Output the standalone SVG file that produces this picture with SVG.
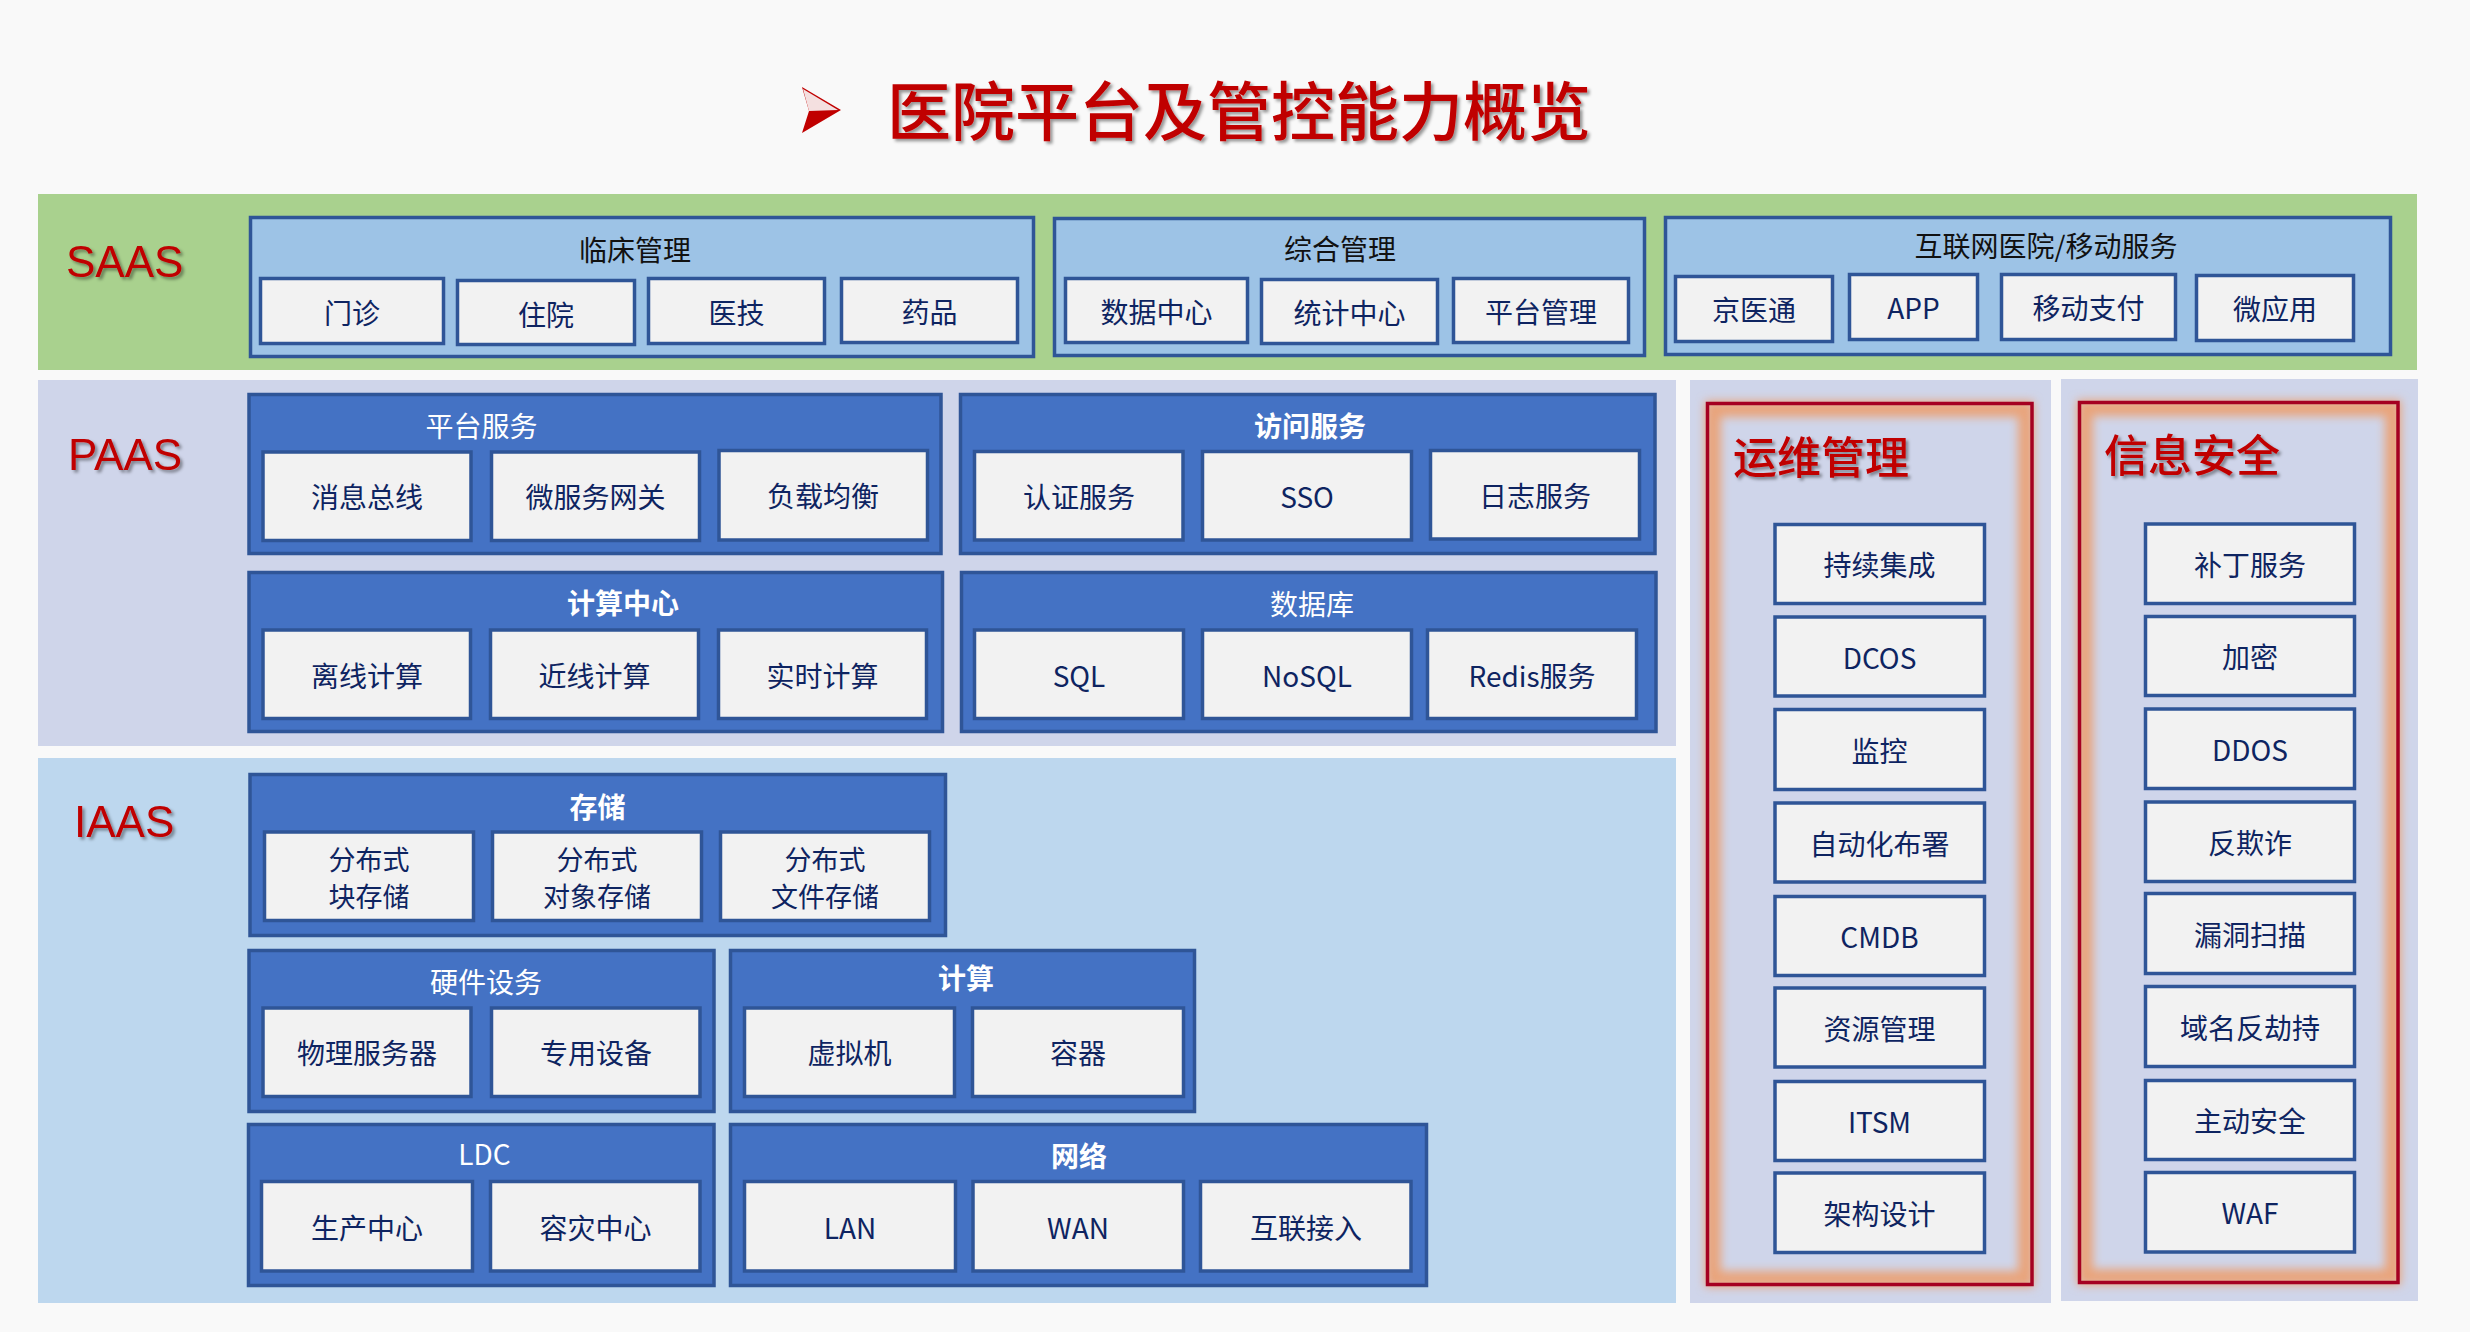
<svg xmlns="http://www.w3.org/2000/svg" width="2470" height="1332" viewBox="0 0 2470 1332">
<defs>
<style>
.bg{fill:#F9F9F9}
.saas{fill:#A9D18E}
.paas{fill:#CFD5EA}
.iaas{fill:#BDD7EE}
.gl{fill:#9DC3E6;stroke:#2F5597;stroke-width:3.5}
.gd{fill:#4472C4;stroke:#2F5597;stroke-width:3.5}
.it{fill:#F2F2F2;stroke:#2F5597;stroke-width:3.5}
text{font-family:"Noto Sans CJK SC","Noto Sans",sans-serif}
.ti{font-size:28px;fill:#0E2461;text-anchor:middle;dominant-baseline:central}
.t2{font-size:27px}
.tw{font-size:28px;fill:#FFFFFF;text-anchor:middle;dominant-baseline:central}
.tb{font-weight:bold}
.tk{font-size:28px;fill:#111111;text-anchor:middle;dominant-baseline:central}
.lay{font-family:"Liberation Sans",Arial,sans-serif;font-size:44px;fill:#C00000}
.rt{font-size:44px;fill:#C00000;font-weight:500;dominant-baseline:central}
.frame{fill:none;stroke:#A50021;stroke-width:3.5}
.glow{fill:none;stroke:#E9A47B;stroke-width:16}
</style>
<filter id="sh" x="-10%" y="-20%" width="130%" height="150%">
<feDropShadow dx="2.5" dy="2.5" stdDeviation="1.5" flood-color="#000" flood-opacity="0.4"/>
</filter>
<filter id="blur" x="-10%" y="-10%" width="120%" height="120%">
<feGaussianBlur stdDeviation="5"/>
</filter>
</defs>
<rect class="bg" x="0" y="0" width="2470" height="1332"/>

<g id="title">
<polygon points="802,87 841,110 802,133 809,111" fill="#C00000"/>
<polygon points="803,89 838,110 809,111" fill="#F4E0E0"/>
<text x="887" y="135" font-size="64" font-weight="500" fill="#C00000" filter="url(#sh)">医院平台及管控能力概览</text>
</g>

<!-- bands -->
<rect class="saas" x="38" y="194" width="2379" height="176"/>
<rect class="paas" x="38" y="380" width="1638" height="366"/>
<rect class="iaas" x="38" y="758" width="1638" height="545"/>
<rect class="paas" x="1690" y="380" width="361" height="923"/>
<rect class="paas" x="2061" y="379" width="357" height="922"/>

<g id="layer-labels">
<text class="lay" x="66" y="277" filter="url(#sh)">SAAS</text>
<text class="lay" x="68" y="470" filter="url(#sh)">PAAS</text>
<text class="lay" x="74" y="837" filter="url(#sh)">IAAS</text>
</g>

<!-- SAAS -->
<g id="saas-clinical">
<rect class="gl" x="250.5" y="217.5" width="783" height="139"/>
<text class="tk" x="635" y="249">临床管理</text>
<rect class="it" x="260.5" y="278.5" width="183" height="65"/><text class="ti" x="352" y="312">门诊</text>
<rect class="it" x="457.5" y="280.5" width="177" height="64"/><text class="ti" x="546" y="314">住院</text>
<rect class="it" x="648.5" y="278.5" width="176" height="65"/><text class="ti" x="736.5" y="312">医技</text>
<rect class="it" x="841.5" y="278.5" width="176" height="64"/><text class="ti" x="929.5" y="311">药品</text>
</g>
<g id="saas-general">
<rect class="gl" x="1054.5" y="218.5" width="590" height="137"/>
<text class="tk" x="1340" y="248">综合管理</text>
<rect class="it" x="1065.5" y="278.5" width="182" height="64"/><text class="ti" x="1156.5" y="311">数据中心</text>
<rect class="it" x="1261.5" y="279.5" width="176" height="64"/><text class="ti" x="1349.5" y="312">统计中心</text>
<rect class="it" x="1453.5" y="278.5" width="175" height="64"/><text class="ti" x="1541" y="311">平台管理</text>
</g>
<g id="saas-internet">
<rect class="gl" x="1665.5" y="217.5" width="725" height="137"/>
<text class="tk" x="2046" y="245">互联网医院/移动服务</text>
<rect class="it" x="1675.5" y="276.5" width="157" height="65"/><text class="ti" x="1754" y="309">京医通</text>
<rect class="it" x="1849.5" y="274.5" width="128" height="65"/><text class="ti" x="1913.5" y="307">APP</text>
<rect class="it" x="2001.5" y="274.5" width="174" height="65"/><text class="ti" x="2088.5" y="307">移动支付</text>
<rect class="it" x="2196.5" y="275.5" width="157" height="65"/><text class="ti" x="2275" y="308">微应用</text>
</g>

<!-- PAAS -->
<g id="paas-platform">
<rect class="gd" x="249" y="394.5" width="692" height="159"/>
<text class="tw" x="481.5" y="425">平台服务</text>
<rect class="it" x="263" y="452" width="208" height="88.5"/><text class="ti" x="367" y="496">消息总线</text>
<rect class="it" x="491.5" y="452" width="208" height="88.5"/><text class="ti" x="595.5" y="496">微服务网关</text>
<rect class="it" x="719" y="450.5" width="208.5" height="89.5"/><text class="ti" x="823" y="495">负载均衡</text>
</g>
<g id="paas-access">
<rect class="gd" x="960.5" y="394.5" width="694.5" height="159"/>
<text class="tw tb" x="1310" y="425">访问服务</text>
<rect class="it" x="974.5" y="451.5" width="208.5" height="88.5"/><text class="ti" x="1079" y="496">认证服务</text>
<rect class="it" x="1202.5" y="451.5" width="209" height="88.5"/><text class="ti" x="1307" y="496">SSO</text>
<rect class="it" x="1430.5" y="450.5" width="209" height="88.5"/><text class="ti" x="1535" y="495">日志服务</text>
</g>
<g id="paas-compute">
<rect class="gd" x="249" y="572.5" width="693.5" height="159"/>
<text class="tw tb" x="623" y="601.5">计算中心</text>
<rect class="it" x="263" y="630" width="207.5" height="88.5"/><text class="ti" x="367" y="675">离线计算</text>
<rect class="it" x="490.5" y="630" width="208" height="88.5"/><text class="ti" x="594.5" y="675">近线计算</text>
<rect class="it" x="718.5" y="630" width="208" height="88.5"/><text class="ti" x="822.5" y="675">实时计算</text>
</g>
<g id="paas-db">
<rect class="gd" x="961.5" y="572.5" width="694.5" height="159"/>
<text class="tw" x="1312" y="602.5">数据库</text>
<rect class="it" x="974.5" y="630" width="209" height="88.5"/><text class="ti" x="1079" y="675">SQL</text>
<rect class="it" x="1202.5" y="630" width="209" height="88.5"/><text class="ti" x="1307" y="675">NoSQL</text>
<rect class="it" x="1427.5" y="630" width="209" height="88.5"/><text class="ti" x="1532" y="675">Redis服务</text>
</g>

<!-- IAAS -->
<g id="iaas-storage">
<rect class="gd" x="250" y="774.5" width="695.5" height="161"/>
<text class="tw tb" x="597.5" y="805.5">存储</text>
<rect class="it" x="264.5" y="832" width="209" height="88.5"/><text class="ti t2" x="369" y="858">分布式</text><text class="ti t2" x="369" y="895">块存储</text>
<rect class="it" x="492.5" y="832" width="209" height="88.5"/><text class="ti t2" x="597" y="858">分布式</text><text class="ti t2" x="597" y="895">对象存储</text>
<rect class="it" x="720.5" y="832" width="209" height="88.5"/><text class="ti t2" x="825" y="858">分布式</text><text class="ti t2" x="825" y="895">文件存储</text>
</g>
<g id="iaas-hardware">
<rect class="gd" x="249" y="950.5" width="465" height="161"/>
<text class="tw" x="486" y="980.5">硬件设务</text>
<rect class="it" x="263" y="1008" width="208" height="88.5"/><text class="ti" x="367" y="1052">物理服务器</text>
<rect class="it" x="491.5" y="1008" width="208.5" height="88.5"/><text class="ti" x="596" y="1052">专用设备</text>
</g>
<g id="iaas-compute">
<rect class="gd" x="730.5" y="950.5" width="464" height="161"/>
<text class="tw tb" x="966" y="976.5">计算</text>
<rect class="it" x="744.5" y="1008" width="210" height="88.5"/><text class="ti" x="849.5" y="1052">虚拟机</text>
<rect class="it" x="972.5" y="1008" width="211" height="88.5"/><text class="ti" x="1078" y="1052">容器</text>
</g>
<g id="iaas-ldc">
<rect class="gd" x="248.5" y="1124.5" width="465.5" height="161"/>
<text class="tw" x="484.5" y="1152.5">LDC</text>
<rect class="it" x="261.5" y="1181.5" width="211" height="89.5"/><text class="ti" x="367" y="1227">生产中心</text>
<rect class="it" x="490.5" y="1181.5" width="209.5" height="89.5"/><text class="ti" x="595.5" y="1227">容灾中心</text>
</g>
<g id="iaas-network">
<rect class="gd" x="730.5" y="1124.5" width="696" height="161"/>
<text class="tw tb" x="1079" y="1155">网络</text>
<rect class="it" x="744.5" y="1181.5" width="211" height="89.5"/><text class="ti" x="850" y="1227">LAN</text>
<rect class="it" x="973" y="1181.5" width="210.5" height="89.5"/><text class="ti" x="1078" y="1227">WAN</text>
<rect class="it" x="1200.5" y="1181.5" width="210.5" height="89.5"/><text class="ti" x="1306" y="1227">互联接入</text>
</g>

<!-- right panels -->
<g id="ops">
<rect class="glow" x="1713" y="409" width="313" height="870" filter="url(#blur)"/>
<rect class="frame" x="1707.5" y="403.5" width="324.5" height="881"/>
<text class="rt" x="1733" y="455" filter="url(#sh)">运维管理</text>
<rect class="it" x="1775" y="524.5" width="209.5" height="79"/><text class="ti" x="1879.5" y="564">持续集成</text>
<rect class="it" x="1775" y="617" width="209.5" height="79"/><text class="ti" x="1879.5" y="656.5">DCOS</text>
<rect class="it" x="1775" y="709.5" width="209.5" height="80"/><text class="ti" x="1879.5" y="750">监控</text>
<rect class="it" x="1775" y="803" width="209.5" height="79"/><text class="ti" x="1879.5" y="842.5">自动化布署</text>
<rect class="it" x="1775" y="896.5" width="209.5" height="79"/><text class="ti" x="1879.5" y="936">CMDB</text>
<rect class="it" x="1775" y="988" width="209.5" height="79"/><text class="ti" x="1879.5" y="1027.5">资源管理</text>
<rect class="it" x="1775" y="1081.5" width="209.5" height="79"/><text class="ti" x="1879.5" y="1121">ITSM</text>
<rect class="it" x="1775" y="1173" width="209.5" height="79.5"/><text class="ti" x="1879.5" y="1212.5">架构设计</text>
</g>
<g id="security">
<rect class="glow" x="2085" y="408" width="308" height="869" filter="url(#blur)"/>
<rect class="frame" x="2079.5" y="402.5" width="318.5" height="880"/>
<text class="rt" x="2104" y="453" filter="url(#sh)">信息安全</text>
<rect class="it" x="2145.5" y="524" width="209" height="79.5"/><text class="ti" x="2250" y="563.5">补丁服务</text>
<rect class="it" x="2145.5" y="616.5" width="209" height="79"/><text class="ti" x="2250" y="656">加密</text>
<rect class="it" x="2145.5" y="709" width="209" height="79.5"/><text class="ti" x="2250" y="749">DDOS</text>
<rect class="it" x="2145.5" y="802" width="209" height="79.5"/><text class="ti" x="2250" y="842">反欺诈</text>
<rect class="it" x="2145.5" y="893.5" width="209" height="80"/><text class="ti" x="2250" y="933.5">漏洞扫描</text>
<rect class="it" x="2145.5" y="986.5" width="209" height="80"/><text class="ti" x="2250" y="1026.5">域名反劫持</text>
<rect class="it" x="2145.5" y="1080.5" width="209" height="79"/><text class="ti" x="2250" y="1120">主动安全</text>
<rect class="it" x="2145.5" y="1172.5" width="209" height="79.5"/><text class="ti" x="2250" y="1212">WAF</text>
</g>
<g id="connectors"></g>
</svg>
